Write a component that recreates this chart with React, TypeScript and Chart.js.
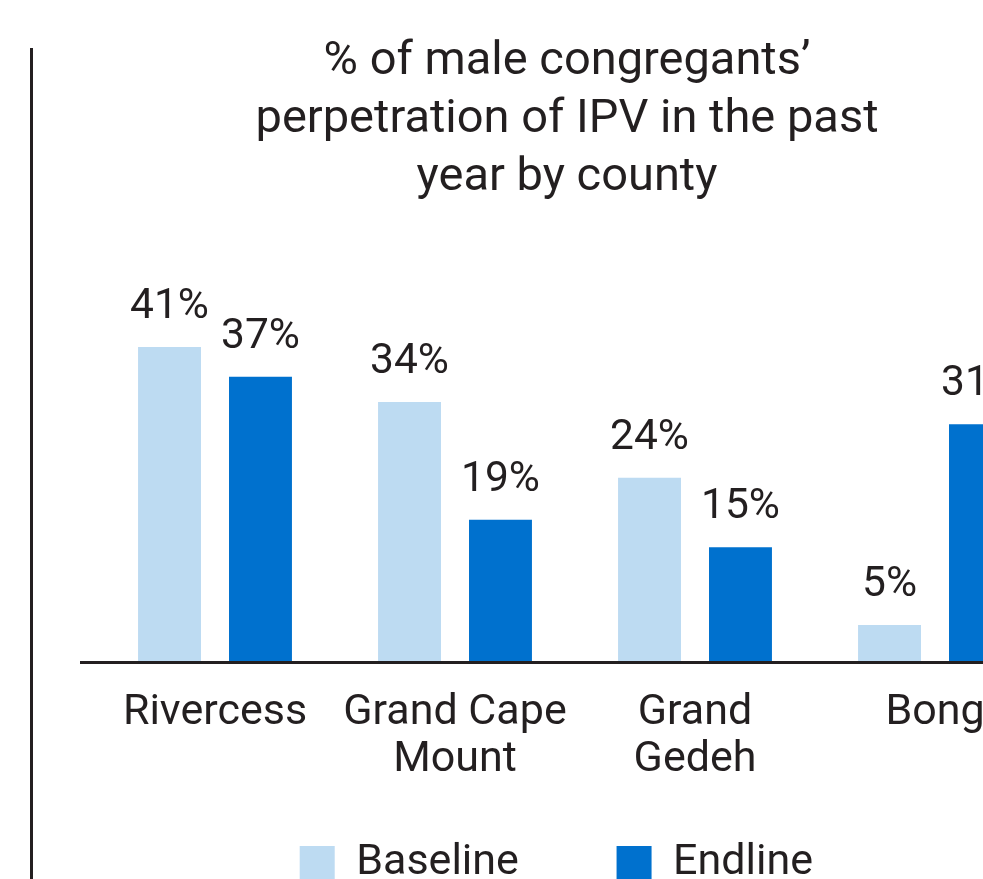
import React, { useEffect, useRef } from "react";
import { Chart, registerables } from "chart.js";

Chart.register(...registerables);

const categories: (string | string[])[] = ["Rivercess", ["Grand Cape", "Mount"], ["Grand", "Gedeh"], "Bong"];
const baselineValues = [41.1, 33.9, 24.0, 4.7];
const endlineValues = [37.2, 18.5, 14.9, 31.0];
const titleLines = ["% of male congregants’", "perpetration of IPV in the past", "year by county"];
const seriesNames = ["Baseline", "Endline"];

const TEXT = "#231f20";
const FONT = "Roboto";

const dataLabelPlugin = {
  id: "dataLabels",
  afterDatasetsDraw(chart: any) {
    const ctx = chart.ctx;
    ctx.save();
    ctx.font = `42.5px ${FONT}`;
    ctx.fillStyle = TEXT;
    ctx.textAlign = "center";
    ctx.textBaseline = "alphabetic";
    chart.data.datasets.forEach((ds: any, di: number) => {
      const meta = chart.getDatasetMeta(di);
      meta.data.forEach((el: any, i: number) => {
        const v = ds.data[i] as number;
        ctx.fillText(`${Math.round(v)}%`, el.x, el.y - 29);
      });
    });
    ctx.restore();
  },
};

const baseLinePlugin = {
  id: "baseLine",
  afterDatasetsDraw(chart: any) {
    const { ctx, chartArea } = chart;
    ctx.save();
    ctx.strokeStyle = TEXT;
    ctx.lineWidth = 3;
    ctx.beginPath();
    ctx.moveTo(chartArea.left - 15, chartArea.bottom + 1.5);
    ctx.lineTo(chart.width, chartArea.bottom + 1.5);
    ctx.stroke();
    ctx.restore();
  },
};

export default function App() {
  const ref = useRef<HTMLCanvasElement | null>(null);
  useEffect(() => {
    if (!ref.current) return;
    const chart = new Chart(ref.current, {
      type: "bar",
      data: {
        labels: categories,
        datasets: [
          {
            label: seriesNames[0],
            data: baselineValues,
            backgroundColor: "#bddbf2",
            categoryPercentage: 0.758,
            barPercentage: 0.692,
          },
          {
            label: seriesNames[1],
            data: endlineValues,
            backgroundColor: "#0071ce",
            categoryPercentage: 0.758,
            barPercentage: 0.692,
          },
        ],
      },
      options: {
        animation: false,
        responsive: true,
        maintainAspectRatio: false,
        layout: { padding: 0 },
        scales: {
          x: {
            grid: { display: false, drawTicks: false },
            border: { display: false },
            ticks: {
              color: TEXT,
              font: { family: FONT, size: 43, lineHeight: 47 / 43 },
              padding: 29,
              maxRotation: 0,
              autoSkip: false,
            },
            afterFit: (s: any) => {
              s.height = 171;
            },
          },
          y: {
            min: 0,
            max: 50,
            grid: { display: false },
            border: { display: false },
            ticks: { display: false },
            afterFit: (s: any) => {
              s.width = 95;
            },
          },
          y2: {
            position: "right",
            display: true,
            grid: { display: false },
            border: { display: false },
            ticks: { display: false },
            afterFit: (s: any) => {
              s.width = 79;
            },
          },
        },
        plugins: {
          title: {
            display: true,
            text: titleLines,
            color: TEXT,
            font: { family: FONT, size: 47, weight: "normal", lineHeight: 58 / 47 },
            padding: { top: 33, bottom: 72 },
          },
          legend: {
            position: "bottom",
            labels: {
              color: TEXT,
              font: { family: FONT, size: 43 },
              boxWidth: 35,
              boxHeight: 35,
              padding: 10,
              generateLabels: (chart: any) => {
                const items = Chart.defaults.plugins.legend.labels.generateLabels(chart);
                return items.map((it: any, i: number) =>
                  i === 0 ? { ...it, text: it.text + "\u2003\u2003" } : { ...it, text: it.text + "  " }
                );
              },
            },
          },
          tooltip: { enabled: false },
        },
      },
      plugins: [dataLabelPlugin, baseLinePlugin],
    });
    return () => chart.destroy();
  }, []);

  return (
    <div
      style={{
        position: "fixed",
        left: 0,
        top: 0,
        width: 983,
        height: 879,
        overflow: "hidden",
        background: "#fff",
      }}
    >
      <div
        style={{
          position: "absolute",
          left: 30,
          top: 48,
          width: 3,
          height: 900,
          background: TEXT,
        }}
      />
      <div style={{ position: "absolute", left: 0, top: 0, width: 1134, height: 895 }}>
        <canvas ref={ref} />
      </div>
    </div>
  );
}
